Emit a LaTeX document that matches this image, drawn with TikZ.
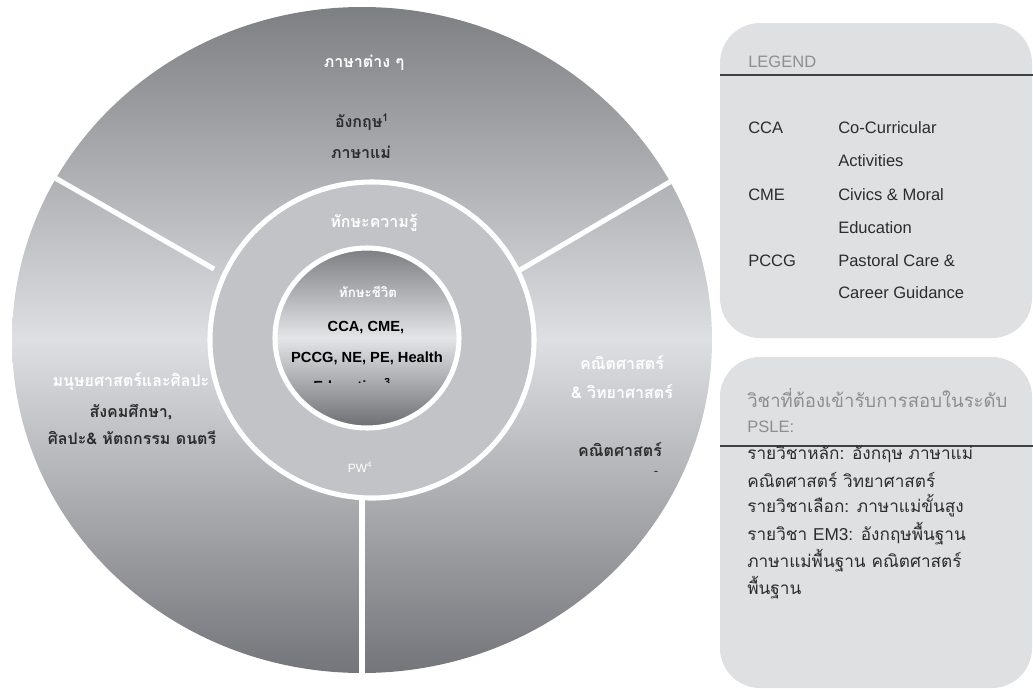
\documentclass[tikz,border=0pt]{standalone}
\usepackage{fontspec}
\setmainfont{Liberation Sans}
\newfontfamily\thai[Script=Thai]{Loma}
\definecolor{discTop}{HTML}{7E7F83}
\definecolor{discMid}{HTML}{DEDFE2}
\definecolor{discBot}{HTML}{74757A}
\definecolor{ringGrey}{HTML}{C2C3C6}
\definecolor{coreTop}{HTML}{7C7D81}
\definecolor{coreMid}{HTML}{E4E5E7}
\definecolor{coreBot}{HTML}{6C6D71}
\definecolor{boxGrey}{HTML}{DFE0E2}
\definecolor{darkTxt}{HTML}{2C2C2C}
\definecolor{paleTxt}{HTML}{8E8E8E}
\begin{document}
\begin{tikzpicture}[x=0.75pt,y=-0.75pt,
  every node/.style={inner sep=0pt},
  sep/.style={white,line width=3.8pt},
  rim/.style={white,line width=3.8pt},
  wlabel/.style={text=white,font=\thai\bfseries\fontsize{12}{14}\selectfont},
  dlabel/.style={text=darkTxt,font=\thai\bfseries\fontsize{12}{14}\selectfont},
  core/.style={text=black,font=\bfseries\fontsize{11}{13}\selectfont},
  legtxt/.style={anchor=west,text=darkTxt,font=\fontsize{12.4}{14}\selectfont},
  pale/.style={anchor=west,text=paleTxt,font=\fontsize{12.4}{14}\selectfont},
  thaitxt/.style={anchor=west,text=darkTxt,font=\thai\fontsize{12.9}{14}\selectfont},
  rule/.style={draw=black!75,line width=1.1pt}]
\useasboundingbox (0,0) rectangle (1033,690);
% outer disc (shaded in an upright frame)
\begin{scope}[y=0.75pt]
\shade[top color=discTop,bottom color=discBot,middle color=discMid] (362,-340) ellipse (350 and 333);
\end{scope}
\coordinate (tlIn) at (214,269);
\coordinate (tlOut) at (50,175);
\coordinate (trIn) at (520,270);
\coordinate (trOut) at (680,176);
\coordinate (btIn) at (362,495);
\coordinate (btOut) at (362,690);
\draw[sep] (tlIn) -- (tlOut);
\draw[sep] (trIn) -- (trOut);
\draw[sep] (btIn) -- (btOut);
% ring and core
\draw[rim,fill=ringGrey] (372,340) ellipse (162 and 158);
\begin{scope}[y=0.75pt]
\shade[top color=coreTop,bottom color=coreBot,middle color=coreMid] (367,-338) ellipse (92 and 90);
\end{scope}
\draw[rim] (367,338) ellipse (92 and 90);
% top sector
\node[wlabel] (langs) at (364,63) {ภาษาต่าง ๆ};
\node[dlabel] (eng) at (362,122) {อังกฤษ\textsuperscript{1}};
\node[dlabel] (mother) at (361,152) {ภาษาแม่};
% left sector
\node[wlabel] (hum) at (131,382) {มนุษยศาสตร์และศิลปะ};
\node[dlabel] (soc) at (131,412) {สังคมศึกษา,};
\node[dlabel] (arts) at (132,438) {ศิลปะ\& หัตถกรรม ดนตรี};
% right sector
\node[wlabel] (maths) at (622,363) {คณิตศาสตร์};
\node[wlabel] (sci) at (622,392) {\& วิทยาศาสตร์};
\node[dlabel] (mathsb) at (620,450) {คณิตศาสตร์};
\node[text=darkTxt] (dash) at (656,473) {-};
% ring and core labels
\node[wlabel] (know) at (374,223) {ทักษะความรู้};
\node[wlabel,font=\thai\bfseries\fontsize{10}{12}\selectfont] (life) at (368,292) {ทักษะชีวิต};
\node[core] (cca) at (366,328) {CCA, CME,};
\node[core] (pccg) at (367,358) {PCCG, NE, PE, Health};
\begin{scope}
\clip (280,378) rectangle (460,382.5);
\node[core,anchor=base] (edu) at (352,391) {Education\textsuperscript{3}};
\end{scope}
\node[text=white,font=\fontsize{9}{11}\selectfont] (pw) at (360,467) {PW\textsuperscript{4}};
% legend box
\fill[boxGrey,rounded corners=30pt] (720,23) rectangle (1032,338);
\draw[rule] (720,75) -- (1033,75);
\node[pale] (legend) at (748,62) {LEGEND};
\node[legtxt] (kCCA) at (748,128) {CCA};
\node[legtxt] (vCCA) at (838,128) {Co-Curricular};
\node[legtxt] (vCCAb) at (838,161) {Activities};
\node[legtxt] (kCME) at (748,195) {CME};
\node[legtxt] (vCME) at (838,195) {Civics \& Moral};
\node[legtxt] (vCMEb) at (838,228) {Education};
\node[legtxt] (kPCCG) at (748,261) {PCCG};
\node[legtxt] (vPCCG) at (838,261) {Pastoral Care \&};
\node[legtxt] (vPCCGb) at (838,293) {Career Guidance};
% PSLE box
\fill[boxGrey,rounded corners=30pt] (720,357) rectangle (1032,688);
\node[thaitxt,text=paleTxt,font=\thai\fontsize{13.9}{15}\selectfont] (psleHead) at (747,398) {วิชาที่ต้องเข้ารับการสอบในระดับ};
\node[pale] (psle) at (747,427) {PSLE:};
\draw[rule] (720,446) -- (1033,446);
\node[thaitxt] (core1) at (747,454) {รายวิชาหลัก: อังกฤษ ภาษาแม่};
\node[thaitxt] (core2) at (747,480) {คณิตศาสตร์ วิทยาศาสตร์};
\node[thaitxt] (opt) at (747,506) {รายวิชาเลือก: ภาษาแม่ขั้นสูง};
\node[thaitxt] (em1) at (747,534) {รายวิชา {\rmfamily EM3:} อังกฤษพื้นฐาน};
\node[thaitxt] (em2) at (747,561) {ภาษาแม่พื้นฐาน คณิตศาสตร์};
\node[thaitxt] (em3) at (747,588) {พื้นฐาน};
\end{tikzpicture}
\end{document}
